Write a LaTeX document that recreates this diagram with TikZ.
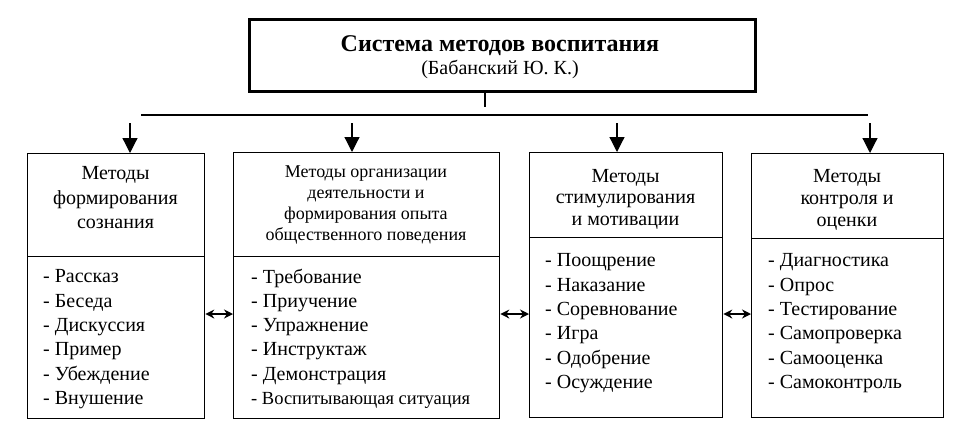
\documentclass[tikz,border=0pt]{standalone}
\usepackage{fontspec}
\setmainfont{Liberation Serif}
\usetikzlibrary{arrows.meta}
\begin{document}
\begin{tikzpicture}[x=1pt,y=-1pt,
  box/.style={draw, line width=1.3pt, inner sep=0pt, anchor=north west},
  titlebox/.style={draw, line width=3.2pt, inner sep=0pt, anchor=north west},
  hdr/.style={align=center, inner sep=0pt, font=\fontsize{20}{24.5}\selectfont},
  hdrs/.style={align=center, inner sep=0pt, font=\fontsize{18}{21}\selectfont},
  lst/.style={align=left, inner sep=0pt, anchor=north west, font=\fontsize{20}{24.3}\selectfont},
  conn/.style={line width=1.2pt},
  down/.style={line width=1.2pt, -{Triangle[width=15pt,length=15pt]}},
  both/.style={line width=1.2pt, {Stealth[width=9pt,length=9pt]}-{Stealth[width=9pt,length=9pt]}}
]
\useasboundingbox (0,0) rectangle (970,445);
% title
\node[titlebox, minimum width=506pt, minimum height=72pt] (title) at (248,18) {};
\node[inner sep=0pt, align=center] (tt) at (500,57)
  {{\fontsize{24}{26}\selectfont\bfseries Система методов воспитания}\\[3pt]
   {\fontsize{20}{22}\selectfont (Бабанский Ю. К.)}};
% boxes
\node[box, minimum width=177pt, minimum height=103pt] (h1) at (27,153) {};
\node[box, minimum width=177pt, minimum height=162pt] (l1) at (27,256) {};
\node[box, minimum width=266pt, minimum height=104pt] (h2) at (233,152) {};
\node[box, minimum width=266pt, minimum height=162pt] (l2) at (233,256) {};
\node[box, minimum width=193pt, minimum height=85pt] (h3) at (529,152) {};
\node[box, minimum width=193pt, minimum height=180pt] (l3) at (529,237) {};
\node[box, minimum width=192pt, minimum height=85pt] (h4) at (751,153) {};
\node[box, minimum width=192pt, minimum height=179pt] (l4) at (751,238) {};
% header texts
\node[hdr] (t1) at (115.5,198) {Методы\\формирования\\сознания};
\node[hdrs] (t2) at (366,205) {Методы организации\\деятельности и\\формирования опыта\\общественного поведения};
\node[hdr, font=\fontsize{20}{21.5}\selectfont] (t3) at (625.5,199) {Методы\\стимулирования\\и мотивации};
\node[hdr, font=\fontsize{20}{22}\selectfont] (t4) at (847,200) {Методы\\контроля и\\оценки};
% lists
\node[lst] (m1) at (43,269.5) {- Рассказ\\- Беседа\\- Дискуссия\\- Пример\\- Убеждение\\- Внушение};
\node[lst] (m2) at (251,268.5) {- Требование\\- Приучение\\- Упражнение\\- Инструктаж\\- Демонстрация\\{\fontsize{18.5}{24.3}\selectfont - Воспитывающая ситуация}};
\node[lst] (m3) at (545,253.5) {- Поощрение\\- Наказание\\- Соревнование\\- Игра\\- Одобрение\\- Осуждение};
\node[lst] (m4) at (768,253.5) {- Диагностика\\- Опрос\\- Тестирование\\- Самопроверка\\- Самооценка\\- Самоконтроль};
% connectors
\coordinate (v0) at (485,107);
\coordinate (hl) at (141,115);
\coordinate (hr) at (868,115);
\draw[conn] (title.south -| v0) -- (v0);
\draw[conn] (hl) -- (hr);
\coordinate (a1) at (130,123);
\coordinate (a2) at (352,123);
\coordinate (a3) at (617,123);
\coordinate (a4) at (870,123);
\draw[down] (a1) -- (a1 |- h1.north);
\draw[down] (a2) -- (a2 |- h2.north);
\draw[down] (a3) -- (a3 |- h3.north);
\draw[down] (a4) -- (a4 |- h4.north);
\coordinate (r) at (0,314);
\draw[both] (l1.east |- r) -- (l2.west |- r);
\draw[both] (l2.east |- r) -- (l3.west |- r);
\draw[both] (l3.east |- r) -- (l4.west |- r);
\end{tikzpicture}
\end{document}
